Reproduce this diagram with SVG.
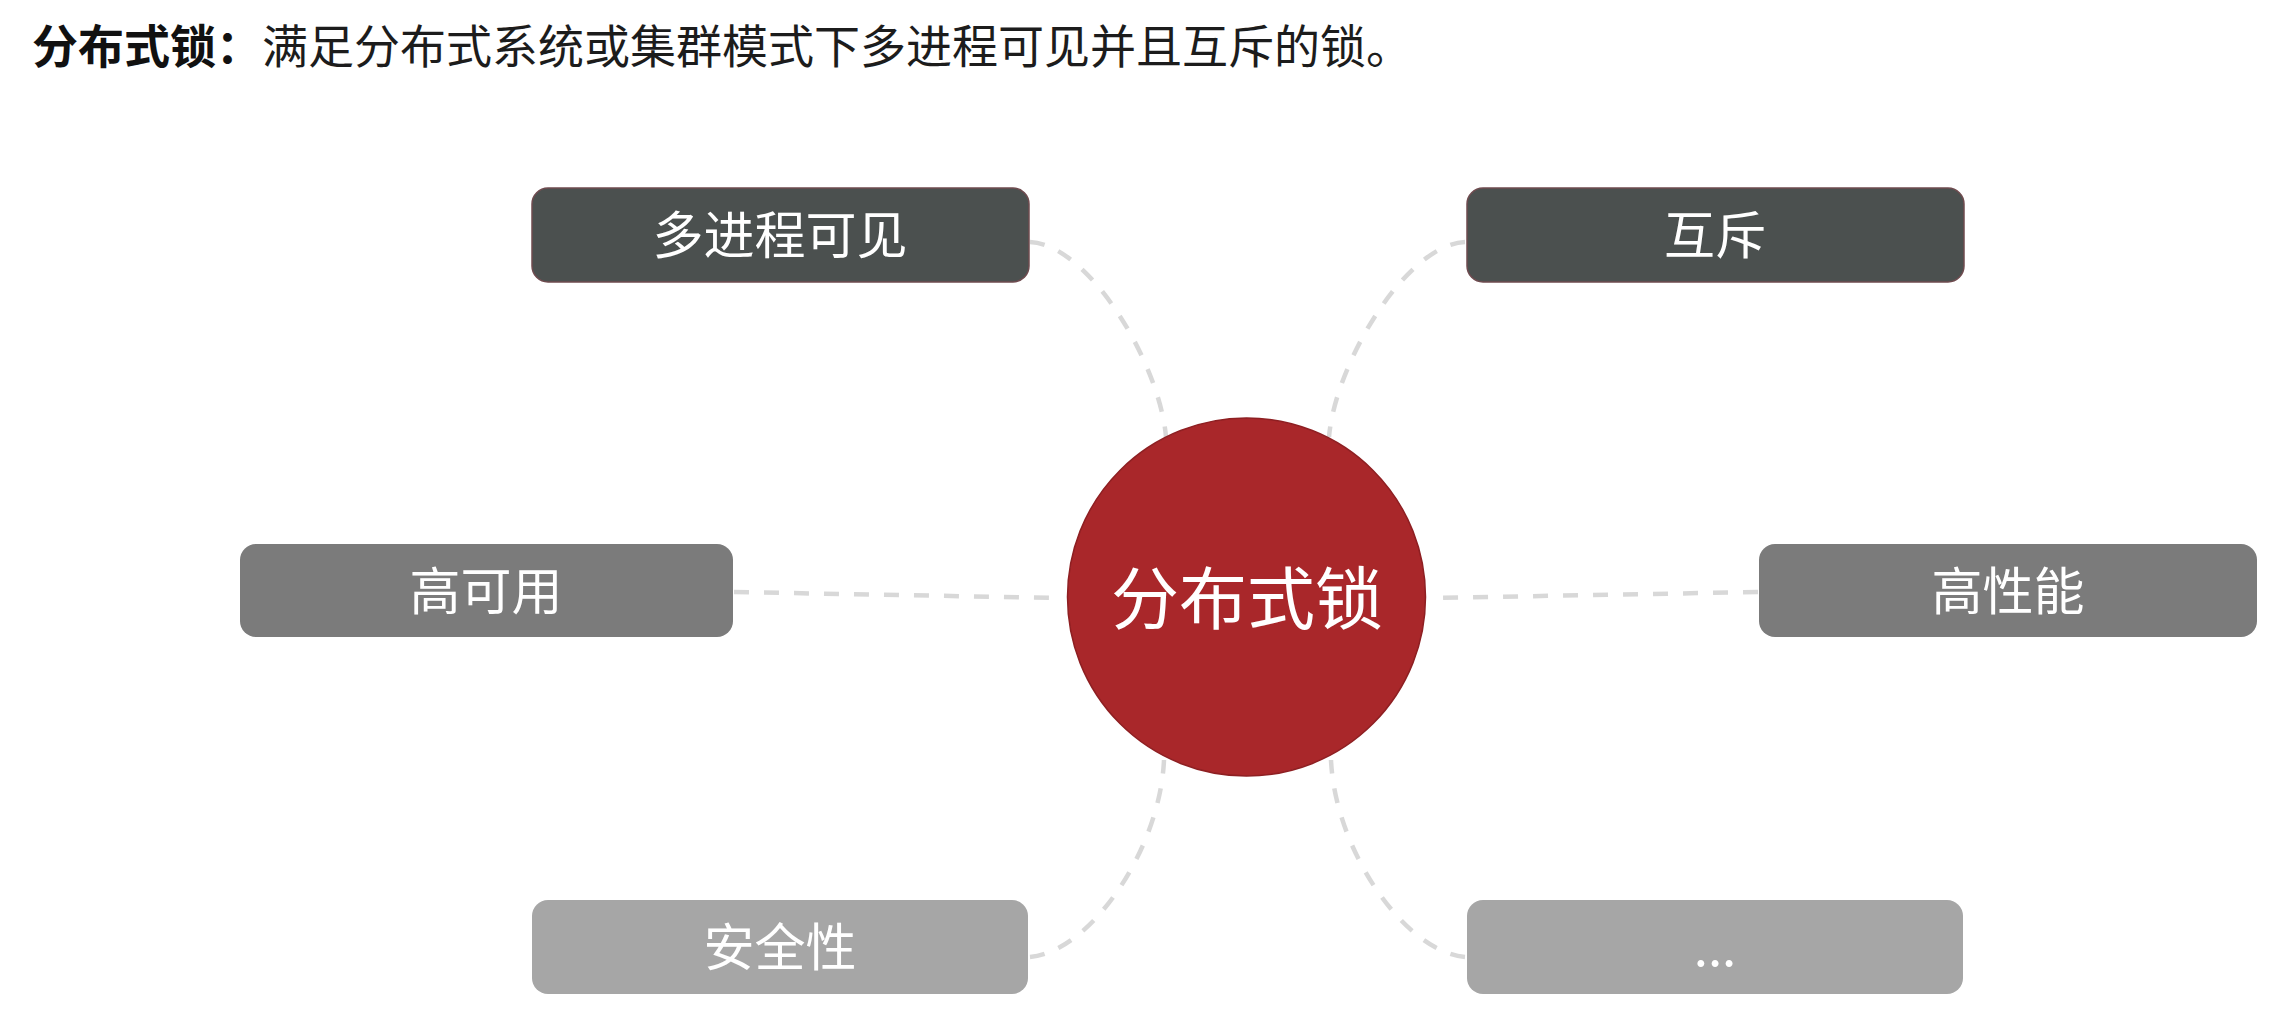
<svg xmlns="http://www.w3.org/2000/svg" width="2279" height="1027" viewBox="0 0 2279 1027">
  <style>
    .title { font-family: "Noto Sans CJK SC", "Noto Sans", sans-serif; font-size: 46px; fill: #1c1c1c; }
    .title .b { font-weight: bold; fill: #111; }
    .box { stroke: none; }
    .dark { fill: #4b504f; stroke: #6f4b4f; stroke-width: 1.5; }
    .mid { fill: #7b7b7b; }
    .light { fill: #a6a6a6; }
    .label { font-family: "Noto Sans CJK SC", "Noto Sans", sans-serif; font-size: 51px; fill: #ffffff; text-anchor: middle; }
    .center-label { font-family: "Noto Sans CJK SC", "Noto Sans", sans-serif; font-size: 68px; fill: #ffffff; text-anchor: middle; }
    .conn { fill: none; stroke: #d8d8d8; stroke-width: 4.5; stroke-dasharray: 15 15; }
  </style>
  <rect width="2279" height="1027" fill="#ffffff"/>

  <text class="title" x="32" y="63"><tspan class="b">分布式锁：</tspan>满足分布式系统或集群模式下多进程可见并且互斥的锁。</text>

  <g id="connectors">
    <path class="conn" d="M1030,242 C1090,245 1160,365 1166,437"/>
    <path class="conn" d="M1465,242 C1405,245 1335,365 1329,437"/>
    <path class="conn" d="M734,592 L1060,598"/>
    <path class="conn" d="M1758,592 L1432,598"/>
    <path class="conn" d="M1030,957 C1090,952 1160,850 1164,760"/>
    <path class="conn" d="M1465,957 C1405,952 1335,850 1331,760"/>
  </g>

  <g id="node-center">
    <circle cx="1246.5" cy="597" r="179" fill="#a9272a" stroke="#8e1f22" stroke-width="1.5"/>
    <text class="center-label" x="1247" y="624">分布式锁</text>
  </g>

  <g id="node-multiprocess">
    <rect class="dark" x="532" y="188" width="497" height="94" rx="16"/>
    <text class="label" x="780" y="254">多进程可见</text>
  </g>

  <g id="node-mutex">
    <rect class="dark" x="1467" y="188" width="497" height="94" rx="16"/>
    <text class="label" x="1715" y="254">互斥</text>
  </g>

  <g id="node-ha">
    <rect class="box mid" x="240" y="544" width="493" height="93" rx="16"/>
    <text class="label" x="486" y="610">高可用</text>
  </g>

  <g id="node-perf">
    <rect class="box mid" x="1759" y="544" width="498" height="93" rx="16"/>
    <text class="label" x="2008" y="610">高性能</text>
  </g>

  <g id="node-security">
    <rect class="box light" x="532" y="900" width="496" height="94" rx="16"/>
    <text class="label" x="780" y="966">安全性</text>
  </g>

  <g id="node-more">
    <rect class="box light" x="1467" y="900" width="496" height="94" rx="16"/>
    <text class="label" x="1715" y="966">...</text>
  </g>
</svg>
